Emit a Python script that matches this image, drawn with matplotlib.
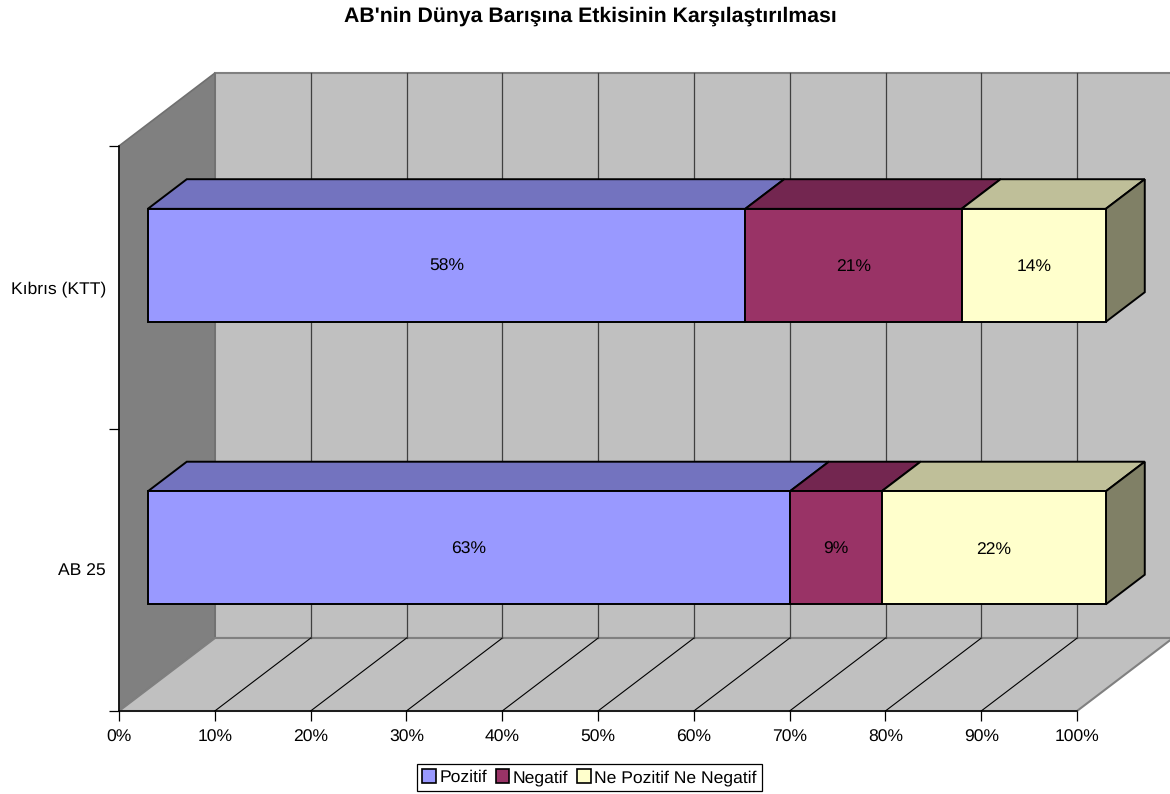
import matplotlib
matplotlib.use("Agg")
import matplotlib.pyplot as plt
from matplotlib.patches import Polygon, Patch

plt.rcParams['font.family'] = ['Liberation Sans', 'DejaVu Sans']
plt.rcParams['text.hinting'] = 'none'

categories = ["AB 25", "Kıbrıs (KTT)"]
series_names = ["Pozitif", "Negatif", "Ne Pozitif Ne Negatif"]
pozitif = [63, 58]
negatif = [9, 21]
ne_pozitif = [22, 14]
percent_ticks = list(range(0, 101, 10))

front_colors = ["#9999FF", "#993366", "#FFFFCC"]
top_colors = ["#7373BF", "#732650", "#BFBF99"]
side_colors = ["#737397", "#4D1933", "#808066"]

FONT = 12.6

# how far the back wall sits from the front plane, in data units
DEPTH_X = 10.02
DEPTH_Y = 0.2584
BAR_HEIGHT = 0.4
BAR_D0 = 0.30
BAR_D1 = 0.706


def proj(x, y, d):
    return (x + d * DEPTH_X, y + d * DEPTH_Y)


def face(ax, pts, color, edge="black", lw=1.4, z=3):
    ax.add_patch(Polygon(pts, closed=True, facecolor=color, edgecolor=edge,
                         linewidth=lw, zorder=z, clip_on=False, joinstyle="miter"))


def draw_walls(ax):
    grey = "#808080"
    face(ax, [proj(0, 0, 1), proj(100, 0, 1), proj(100, 2, 1), proj(0, 2, 1)], "#C0C0C0", grey, 1.5, 1)
    face(ax, [proj(0, 0, 0), proj(0, 0, 1), proj(0, 2, 1), proj(0, 2, 0)], "#808080", "#707070", 1.2, 1)
    face(ax, [proj(0, 0, 0), proj(100, 0, 0), proj(100, 0, 1), proj(0, 0, 1)], "#C0C0C0", grey, 1.5, 1)
    for t in percent_ticks[1:-1]:
        x0, y0 = proj(t, 0, 0)
        x1, y1 = proj(t, 0, 1)
        x2, y2 = proj(t, 2, 1)
        ax.plot([x0, x1], [y0, y1], color="black", lw=0.8, zorder=2, clip_on=False)
        ax.plot([x1, x2], [y1, y2], color="#404040", lw=0.9, zorder=2, clip_on=False)
    # last vertical grid line on the back wall
    x1, y1 = proj(100, 0, 1)
    x2, y2 = proj(100, 2, 1)
    ax.plot([x1, x2], [y1, y2], color="#404040", lw=0.9, zorder=2, clip_on=False)


def draw_bars(ax):
    # Excel style 100% stack: the labels show the raw values
    for i in [1, 0]:
        vals = [pozitif[i], negatif[i], ne_pozitif[i]]
        total = sum(vals)
        y0 = i + 0.5 - BAR_HEIGHT / 2
        y1 = i + 0.5 + BAR_HEIGHT / 2
        left = 0
        for j, v in enumerate(vals):
            right = left + v / total * 100
            face(ax, [proj(left, y1, BAR_D0), proj(right, y1, BAR_D0),
                      proj(right, y1, BAR_D1), proj(left, y1, BAR_D1)], top_colors[j])
            if j == len(vals) - 1:
                face(ax, [proj(right, y0, BAR_D0), proj(right, y0, BAR_D1),
                          proj(right, y1, BAR_D1), proj(right, y1, BAR_D0)], side_colors[j])
            face(ax, [proj(left, y0, BAR_D0), proj(right, y0, BAR_D0),
                      proj(right, y1, BAR_D0), proj(left, y1, BAR_D0)], front_colors[j], z=4)
            cx, cy = proj((left + right) / 2, i + 0.5, BAR_D0)
            ax.text(cx, cy - 0.005, f"{v}%", ha="center", va="center", fontsize=FONT, zorder=5)
            left = right


fig = plt.figure(figsize=(11.7, 7.94), dpi=100)
ax = fig.add_axes([119 / 1170, (794 - 711) / 794, 958 / 1170, 565 / 794])
ax.set_xlim(0, 100)
ax.set_ylim(0, 2)
ax.patch.set_visible(False)

draw_walls(ax)
draw_bars(ax)

ax.spines["top"].set_visible(False)
ax.spines["right"].set_visible(False)
ax.spines["left"].set_linewidth(1.1)
ax.spines["bottom"].set_linewidth(1.1)
ax.spines["left"].set_zorder(2.5)
ax.spines["bottom"].set_zorder(2.5)

ax.set_xticks(percent_ticks)
ax.set_xticklabels([f"{t}%" for t in percent_ticks], fontsize=FONT)
ax.tick_params(axis="x", length=7.2, width=0.9, pad=6.2)
ax.set_yticks([0, 1, 2])
ax.set_yticklabels([])
ax.tick_params(axis="y", which="major", length=7.2, width=0.9)
ax.set_yticks([0.5, 1.5], labels=categories, minor=True, fontsize=FONT)
ax.tick_params(axis="y", which="minor", length=0, pad=9.4)

fig.text(590 / 1170, 1 - 16 / 794, "AB'nin Dünya Barışına Etkisinin Karşılaştırılması",
         ha="center", va="center", fontsize=15.35, fontweight="bold")

handles = [Patch(facecolor=c, edgecolor="black", linewidth=1.2) for c in front_colors]
leg = fig.legend(handles, series_names, loc="center", bbox_to_anchor=(589.5 / 1170, 1 - 777.5 / 794),
                 ncol=3, fontsize=FONT, frameon=True, fancybox=False, edgecolor="black",
                 framealpha=1, handlelength=0.78, handleheight=0.78, handletextpad=0.2,
                 columnspacing=0.5, borderpad=0.32, borderaxespad=0)
leg.get_frame().set_linewidth(0.9)

fig.savefig("out.png", dpi=100)
